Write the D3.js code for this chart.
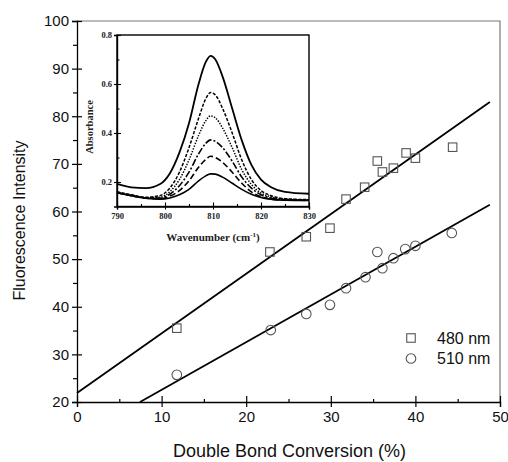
<!DOCTYPE html>
<html>
<head>
<meta charset="utf-8">
<script src="https://cdn.jsdelivr.net/npm/d3@7"></script>
<style>
  body { margin: 0; background: #fff; }
  svg { display: block; }
</style>
</head>
<body>
<svg id="chart" width="508" height="462"></svg>
<script>
// ---- main plot data: fluorescence intensity vs double bond conversion ----
const conv480 = [11.8, 22.8, 27.1, 29.9, 31.8, 34.0, 35.5, 36.1, 37.4, 38.9, 40.0, 44.4];
const fluo480 = [35.5, 51.5, 54.7, 56.5, 62.6, 65.1, 70.6, 68.3, 69.1, 72.3, 71.2, 73.5];
const conv510 = [11.8, 22.9, 27.1, 29.9, 31.8, 34.1, 35.5, 36.1, 37.4, 38.8, 40.0, 44.3];
const fluo510 = [25.7, 35.1, 38.5, 40.4, 43.9, 46.2, 51.5, 48.1, 50.2, 52.1, 52.8, 55.5];
// linear fits, as [conversion, intensity] end points
const fit480 = [[0, 21.9], [48.8, 83.0]];
const fit510 = [[7.45, 20], [48.8, 61.4]];
const xTicks = [0, 10, 20, 30, 40, 50];
const yTicks = [20, 30, 40, 50, 60, 70, 80, 90, 100];
const seriesNames = ["480 nm", "510 nm"];

// ---- inset data: absorbance spectra ----
const wavenumber = [790, 793, 796, 799, 801, 803, 805, 807, 808.5, 809.5, 810.5, 812, 814, 816, 818, 820, 822, 825, 830];
const abs1 = [0.192, 0.178, 0.175, 0.192, 0.235, 0.320, 0.440, 0.600, 0.690, 0.715, 0.700, 0.630, 0.500, 0.370, 0.270, 0.210, 0.180, 0.160, 0.152];
const abs2 = [0.160, 0.148, 0.138, 0.145, 0.175, 0.240, 0.340, 0.460, 0.540, 0.565, 0.555, 0.500, 0.400, 0.290, 0.210, 0.165, 0.145, 0.132, 0.128];
const abs3 = [0.158, 0.146, 0.136, 0.138, 0.160, 0.210, 0.290, 0.390, 0.450, 0.470, 0.462, 0.420, 0.340, 0.250, 0.190, 0.155, 0.140, 0.130, 0.127];
const abs4 = [0.157, 0.145, 0.135, 0.135, 0.150, 0.185, 0.240, 0.315, 0.358, 0.372, 0.366, 0.340, 0.285, 0.220, 0.175, 0.148, 0.135, 0.128, 0.126];
const abs5 = [0.156, 0.144, 0.134, 0.132, 0.142, 0.165, 0.205, 0.260, 0.292, 0.305, 0.300, 0.280, 0.240, 0.195, 0.160, 0.140, 0.130, 0.126, 0.125];
const abs6 = [0.156, 0.144, 0.134, 0.130, 0.135, 0.148, 0.170, 0.205, 0.225, 0.233, 0.232, 0.220, 0.195, 0.170, 0.150, 0.137, 0.130, 0.126, 0.125];
const insetXTicks = [790, 800, 810, 820, 830];
const insetYTicks = [0.2, 0.4, 0.6, 0.8];

const svg = d3.select("#chart");
const sans = "'Liberation Sans', Arial, Helvetica, sans-serif";
const serif = "'Liberation Serif', 'Times New Roman', serif";

// ---------------- main plot ----------------
const M = { left: 77, right: 500, top: 21, bottom: 402 };
const x = d3.scaleLinear().domain([0, 50]).range([M.left, M.right]);
const y = d3.scaleLinear().domain([20, 100]).range([M.bottom, M.top]);

// frame (top and right)
svg.append("path")
  .attr("d", `M${M.left},${M.top}H${M.right}V${M.bottom}`)
  .attr("fill", "none").attr("stroke", "#777").attr("stroke-width", 1.2);

function styleAxis(g) {
  g.selectAll(".domain").attr("stroke", "#000").attr("stroke-width", 1.3);
  g.selectAll(".tick line").attr("stroke", "#000").attr("stroke-width", 1.2);
}

// x axis: labelled outer ticks, inner half, minor ticks
const gx = svg.append("g").attr("transform", `translate(0,${M.bottom})`)
  .call(d3.axisBottom(x).tickValues(xTicks).tickSize(5).tickPadding(4).tickFormat(d3.format("d")));
gx.selectAll("text").attr("font-family", sans).attr("font-size", 15).attr("fill", "#111");
styleAxis(gx);
const gxIn = svg.append("g").attr("transform", `translate(0,${M.bottom})`)
  .call(d3.axisBottom(x).tickValues(xTicks).tickSize(-6).tickFormat(""));
const gxMin = svg.append("g").attr("transform", `translate(0,${M.bottom})`)
  .call(d3.axisBottom(x).tickValues([5, 15, 25, 35, 45]).tickSize(-3).tickFormat(""));
[gxIn, gxMin].forEach(g => { styleAxis(g); g.select(".domain").remove(); });

// y axis
const gy = svg.append("g").attr("transform", `translate(${M.left},0)`)
  .call(d3.axisLeft(y).tickValues(yTicks).tickSize(5).tickPadding(3).tickFormat(d3.format("d")));
gy.selectAll("text").attr("font-family", sans).attr("font-size", 15).attr("fill", "#111");
styleAxis(gy);
const gyIn = svg.append("g").attr("transform", `translate(${M.left},0)`)
  .call(d3.axisLeft(y).tickValues(yTicks).tickSize(-5).tickFormat(""));
const gyMin = svg.append("g").attr("transform", `translate(${M.left},0)`)
  .call(d3.axisLeft(y).tickValues([25, 35, 45, 55, 65, 75, 85, 95]).tickSize(4).tickFormat(""));
[gyIn, gyMin].forEach(g => { styleAxis(g); g.select(".domain").remove(); });

// axis titles
svg.append("text")
  .attr("x", (M.left + M.right) / 2 + 1).attr("y", 457)
  .attr("text-anchor", "middle").attr("font-family", sans).attr("font-size", 18).attr("fill", "#111")
  .text("Double Bond Conversion (%)");
svg.append("text")
  .attr("transform", `translate(25,${(M.top + M.bottom) / 2 + 9}) rotate(-90)`)
  .attr("text-anchor", "middle").attr("font-family", sans).attr("font-size", 16).attr("fill", "#111")
  .text("Fluorescence Intensity");

// fitted lines
const fitLine = d3.line().x(d => x(d[0])).y(d => y(d[1]));
[fit480, fit510].forEach(f => {
  svg.append("path").attr("d", fitLine(f))
    .attr("fill", "none").attr("stroke", "#000").attr("stroke-width", 1.8);
});

// markers
const markerStroke = "#555";
const sq = 8.5;
svg.append("g").selectAll("rect").data(d3.zip(conv480, fluo480)).join("rect")
  .attr("x", d => x(d[0]) - sq / 2).attr("y", d => y(d[1]) - sq / 2)
  .attr("width", sq).attr("height", sq)
  .attr("fill", "none").attr("stroke", markerStroke).attr("stroke-width", 1.1);
svg.append("g").selectAll("circle").data(d3.zip(conv510, fluo510)).join("circle")
  .attr("cx", d => x(d[0])).attr("cy", d => y(d[1])).attr("r", 4.8)
  .attr("fill", "none").attr("stroke", markerStroke).attr("stroke-width", 1.1);

// legend
const legend = svg.append("g");
legend.append("rect").attr("x", 411 - sq / 2).attr("y", 338 - sq / 2)
  .attr("width", sq).attr("height", sq).attr("fill", "none").attr("stroke", markerStroke).attr("stroke-width", 1.1);
legend.append("circle").attr("cx", 411).attr("cy", 358.5).attr("r", 4.8)
  .attr("fill", "none").attr("stroke", markerStroke).attr("stroke-width", 1.1);
seriesNames.forEach((name, i) => {
  legend.append("text").attr("x", 437).attr("y", 344 + i * 20)
    .attr("font-family", sans).attr("font-size", 16).attr("fill", "#111").text(name);
});

// ---------------- inset ----------------
const I = { left: 117, right: 309, top: 35, bottom: 206.5 };
const ix = d3.scaleLinear().domain([790, 830]).range([I.left, I.right]);
const iy = d3.scaleLinear().domain([0.1, 0.8]).range([I.bottom, I.top]);

svg.append("rect").attr("x", I.left).attr("y", I.top)
  .attr("width", I.right - I.left).attr("height", I.bottom - I.top)
  .attr("fill", "#fff").attr("stroke", "#000").attr("stroke-width", 1.4);

const spectra = [abs1, abs2, abs3, abs4, abs5, abs6];
const dashes = [null, "3.2,1.6", "1.4,1.4", "7,2,2,2", "6,3", null];
const widths = [1.8, 1.5, 1.5, 1.6, 1.6, 1.6];
const specLine = d3.line().x(d => ix(d[0])).y(d => iy(d[1])).curve(d3.curveMonotoneX);
spectra.forEach((s, i) => {
  svg.append("path").attr("d", specLine(d3.zip(wavenumber, s)))
    .attr("fill", "none").attr("stroke", "#000").attr("stroke-width", widths[i])
    .attr("stroke-dasharray", dashes[i]);
});

function styleInset(g) {
  g.selectAll(".domain").attr("stroke", "#000").attr("stroke-width", 1.4);
  g.selectAll(".tick line").attr("stroke", "#000").attr("stroke-width", 1.1);
}
const ixAxis = svg.append("g").attr("transform", `translate(0,${I.bottom})`)
  .call(d3.axisBottom(ix).tickValues(insetXTicks).tickSize(3).tickPadding(3).tickFormat(d3.format("d")));
ixAxis.selectAll("text").attr("font-family", serif).attr("font-weight", "bold").attr("font-size", 8.5).attr("fill", "#222");
styleInset(ixAxis);
const ixIn = svg.append("g").attr("transform", `translate(0,${I.bottom})`)
  .call(d3.axisBottom(ix).tickValues(insetXTicks).tickSize(-4).tickFormat(""));
const ixMin = svg.append("g").attr("transform", `translate(0,${I.bottom})`)
  .call(d3.axisBottom(ix).tickValues([795, 805, 815, 825]).tickSize(-2.5).tickFormat(""));
[ixIn, ixMin].forEach(g => { styleInset(g); g.select(".domain").remove(); });

const iyAxis = svg.append("g").attr("transform", `translate(${I.left},0)`)
  .call(d3.axisLeft(iy).tickValues(insetYTicks).tickSize(3).tickPadding(2).tickFormat(d3.format(".1f")));
iyAxis.selectAll("text").attr("font-family", serif).attr("font-weight", "bold").attr("font-size", 8.5).attr("fill", "#222");
styleInset(iyAxis);
const iyIn = svg.append("g").attr("transform", `translate(${I.left},0)`)
  .call(d3.axisLeft(iy).tickValues(insetYTicks).tickSize(-4).tickFormat(""));
const iyMin = svg.append("g").attr("transform", `translate(${I.left},0)`)
  .call(d3.axisLeft(iy).tickValues([0.3, 0.5, 0.7]).tickSize(-2.5).tickFormat(""));
[iyIn, iyMin].forEach(g => { styleInset(g); g.select(".domain").remove(); });

// inset titles
const wt = svg.append("text")
  .attr("x", (I.left + I.right) / 2).attr("y", 241)
  .attr("text-anchor", "middle").attr("font-family", serif).attr("font-weight", "bold")
  .attr("font-size", 11).attr("fill", "#222");
wt.append("tspan").text("Wavenumber (cm");
wt.append("tspan").attr("dy", -4).attr("font-size", 7).text("-1");
wt.append("tspan").attr("dy", 4).text(")");
svg.append("text")
  .attr("transform", `translate(93,127) rotate(-90)`)
  .attr("text-anchor", "middle").attr("font-family", serif).attr("font-weight", "bold")
  .attr("font-size", 10.5).attr("fill", "#222")
  .text("Absorbance");
</script>
</body>
</html>
